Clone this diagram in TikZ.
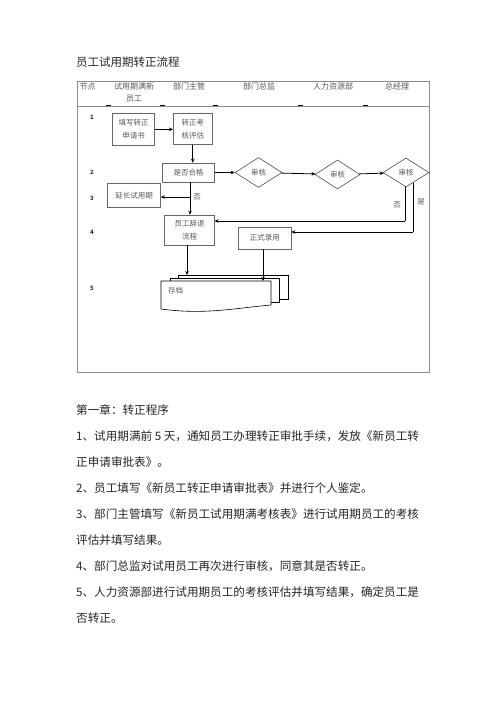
\documentclass[tikz,border=0pt]{standalone}
\usepackage{fontspec}
\setmainfont{Noto Sans CJK SC}
\usetikzlibrary{arrows.meta,shapes.geometric}
\begin{document}
\begin{tikzpicture}[x=1pt,y=-1pt,
  boxstyle/.style={draw=black!60, line width=0.6pt, inner sep=0pt, text=black!65,
    font=\fontsize{7.5}{13}\selectfont, align=center},
  dia/.style={diamond, draw=black!70, line width=0.6pt, inner sep=0pt, text=black!65,
    font=\fontsize{7.5}{9}\selectfont},
  lbl/.style={inner sep=0pt, text=black!65, font=\fontsize{7.5}{9}\selectfont},
  hdr/.style={inner sep=0pt, text=black!65, font=\fontsize{8}{12}\selectfont, align=center},
  rownum/.style={inner sep=0pt, text=black!80, font=\fontsize{6}{7}\selectfont\bfseries},
  body/.style={inner sep=0pt, anchor=west, text=black!85, font=\fontsize{11.6}{14}\selectfont},
  arr/.style={draw=black, line width=0.8pt, -{Stealth[length=4pt,width=3.6pt]}},
  conn/.style={draw=black, line width=0.8pt},
  sheet/.style={draw=black, line width=0.6pt, fill=white}]
\useasboundingbox[fill=white] (0,0) rectangle (496,702);

% title
\node[body, font=\fontsize{11.5}{14}\selectfont] (title) at (76,62.5) {员工试用期转正流程};

% table frame
\draw[black!45, line width=0.7pt] (77,81) rectangle (429,372);
\draw[black!45, line width=0.7pt] (77,106) -- (429,106);
\foreach \t in {108,162,215,300,365}
  \draw[black, line width=1.2pt] (\t-2.5,105.6) -- (\t+2.5,105.6);

% header
\node[hdr] (h1) at (87.5,86.5) {节点};
\node[hdr] (h2) at (134,86.5) {试用期满新};
\node[hdr] (h2b) at (134,98.5) {员工};
\node[hdr] (h3) at (189,86.5) {部门主管};
\node[hdr] (h4) at (259,86.5) {部门总监};
\node[hdr] (h5) at (333,86.5) {人力资源部};
\node[hdr] (h6) at (397,86.5) {总经理};

% row numbers
\node[rownum] (r1) at (92,117) {1};
\node[rownum] (r2) at (92,172) {2};
\node[rownum] (r3) at (92,198) {3};
\node[rownum] (r4) at (92,232) {4};
\node[rownum] (r5) at (92,288) {5};

% boxes
\node[boxstyle, minimum width=42pt, minimum height=32pt] (apply) at (133.5,129.5) {填写转正\\申请书};
\node[boxstyle, minimum width=39pt, minimum height=31pt] (eval) at (192.75,129) {转正考\\核评估};
\node[boxstyle, minimum width=51.5pt, minimum height=19pt] (pass) at (188.5,172.5) {是否合格};
\node[boxstyle, minimum width=53pt, minimum height=24pt] (extend) at (134,195.5) {延长试用期};
\node[boxstyle, minimum width=49.5pt, minimum height=30pt] (quit) at (189.5,230) {员工辞退\\流程};
\node[boxstyle, minimum width=52.5pt, minimum height=22pt] (hire) at (264.75,238) {正式录用};

% diamonds
\node[dia, minimum width=47pt, minimum height=30pt] (d1) at (258.5,172.5) {审核};
\node[dia, minimum width=45pt, minimum height=29pt] (d2) at (337.5,174.5) {审核};
\node[dia, minimum width=46pt, minimum height=29pt] (d3) at (406,172.5) {审核};

% document stack
\draw[sheet] (178,278) -- (178,275) -- (288,275) -- (288,299) -- (279,299);
\draw[sheet] (170,281) -- (170,278) -- (279,278) -- (279,302.7) -- (271,302.7);
\draw[sheet] (161,281) -- (271,281) -- (271,305)
  .. controls (236,308) and (205,315) .. (161,309) -- cycle;
\node[lbl, anchor=west] (doc) at (168,290.5) {存档};
\coordinate (docA) at (187,275);
\coordinate (docB) at (263,281);

% connectors
\draw[arr] (apply.east |- 0,129.3) -- (eval.west |- 0,129.3);
\draw[arr] (eval.south) -- (eval.south |- pass.north);
\draw[arr] (pass) -- (d1);
\draw[arr] (d1) -- (d2);
\draw[arr] (d2) -- (d3);

\coordinate (split) at (190,197);
\draw[arr] (pass.south -| split) -- (quit.north -| split);
\draw[arr] (split) -- (extend.east |- split);
\node[lbl] (no1) at (197,197) {否};

\coordinate (noTurn) at (405,221);
\coordinate (yesTurn) at (413,232);
\draw[conn] (d3.south -| noTurn) -- (noTurn);
\draw[arr] (noTurn) -- (quit.east |- noTurn);
\draw[conn] (d3.-55) -- (d3.-55 |- yesTurn);
\draw[arr] (d3.-55 |- yesTurn) -- (hire.east |- yesTurn);
\node[lbl] (no2) at (397,205) {否};
\node[lbl] (yes) at (421,202) {是};

\draw[arr] (quit.south -| docA) -- (docA);
\draw[arr] (hire.south -| docB) -- (docB);

% body text
\node[body] (t0) at (76,410) {第一章：转正程序};
\node[body] (t1) at (76,436) {1、试用期满前 5 天，通知员工办理转正审批手续，发放《新员工转};
\node[body] (t1b) at (76,462) {正申请审批表》。};
\node[body] (t2) at (76,488) {2、员工填写《新员工转正申请审批表》并进行个人鉴定。};
\node[body] (t3) at (76,514) {3、部门主管填写《新员工试用期满考核表》进行试用期员工的考核};
\node[body] (t3b) at (76,540) {评估并填写结果。};
\node[body] (t4) at (76,566) {4、部门总监对试用员工再次进行审核，同意其是否转正。};
\node[body] (t5) at (76,592) {5、人力资源部进行试用期员工的考核评估并填写结果，确定员工是};
\node[body] (t5b) at (76,618) {否转正。};
\end{tikzpicture}
\end{document}
